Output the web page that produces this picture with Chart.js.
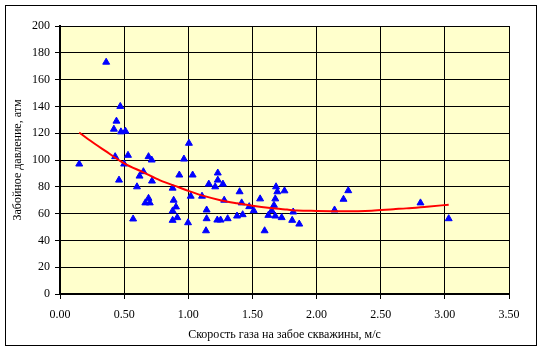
<!DOCTYPE html>
<html lang="ru">

<head>
    <meta charset="UTF-8">
    <script src="https://cdn.jsdelivr.net/npm/chart.js"></script>
    <title>Забойное давление</title>
    <style>
        body,
        html {
            margin: 0;
            padding: 0;
            background: #ffffff;
            overflow: hidden;
        }

        canvas {
            display: block;
        }
    </style>
</head>

<body>
    <canvas id="chart" width="543" height="352"></canvas>
    <script>
        // measured points: gas speed at bottom (m/s) and bottomhole pressure (atm)
        const speeds = [
            0.15, 0.36, 0.47, 0.44, 0.42, 0.475, 0.51, 0.53, 0.43, 0.50,
            0.69, 0.715, 0.46, 0.62, 0.65, 0.717, 0.60, 0.878, 0.93, 0.69,
            0.665, 0.70, 0.886, 0.904, 0.878, 0.57, 0.878, 0.914, 1.005, 0.966,
            1.034, 1.23, 1.23, 1.16, 1.27, 1.21, 1.019, 1.107, 1.28, 1.40,
            1.416, 1.143, 1.475, 1.51, 1.56, 1.684, 1.694, 1.75, 1.678, 1.668,
            1.65, 1.624, 1.678, 1.728, 1.81, 0.998, 1.143, 1.226, 1.252, 1.307,
            1.38, 1.424, 1.138, 1.595, 1.818, 1.865, 2.14, 2.21, 2.247, 2.81,
            3.03
        ]
        const pressures = [
            97, 173, 140, 129, 123, 121, 121.5, 103.5, 102.5, 97,
            102.5, 100, 85, 88, 91.3, 84.3, 80, 79, 88.8, 71.4,
            68, 68, 70, 65, 62, 56, 55, 57, 112.5, 100.7,
            88.8, 90.3, 85, 82, 82, 80, 73, 73, 70, 76.3,
            68, 62.7, 65.2, 62.2, 71, 80, 76.3, 77, 71, 66.2,
            62.2, 58.7, 58.2, 57, 55, 53.2, 56.2, 55.2, 55.2, 56.2,
            58.2, 59.2, 47.2, 47.2, 61.2, 52.2, 62.7, 70.7, 77.1, 68,
            56.2
        ]

        // trend line
        const trendX = [0.15, 0.22, 0.35, 0.5, 0.65, 0.78, 0.93, 1.0, 1.12, 1.25, 1.38, 1.5, 1.64, 1.77, 1.85, 2.0, 2.2, 2.43, 2.6, 2.7, 2.86, 3.03]
        const trendY = [120.5, 115.5, 107, 97.5, 90.8, 84.8, 79.5, 77, 73.2, 70, 67.7, 65.9, 64.2, 63, 62.3, 62, 61.8, 62.2, 63.3, 63.9, 65.2, 66.6]

        const yTicks = [0, 20, 40, 60, 80, 100, 120, 140, 160, 180, 200]
        const xTicks = [0, 0.5, 1, 1.5, 2, 2.5, 3, 3.5]

        const font = { family: 'Liberation Serif', size: 12 }

        const pointData = speeds.map((x, i) => ({ x: x, y: pressures[i] }))
        const trendData = trendX.map((x, i) => ({ x: x, y: trendY[i] }))

        // yellow plot area and outer frame
        const framePlugin = {
            id: 'frame',
            beforeDraw(chart) {
                const ctx = chart.ctx
                const a = chart.chartArea
                ctx.save()
                ctx.fillStyle = '#ffffff'
                ctx.fillRect(0, 0, chart.width, chart.height)
                ctx.strokeStyle = '#000000'
                ctx.lineWidth = 1
                ctx.strokeRect(5.5, 5.5, 531, 340)
                ctx.fillStyle = '#FFFFCC'
                ctx.fillRect(a.left, a.top, a.right - a.left, a.bottom - a.top)
                ctx.restore()
            }
        }

        new Chart(document.getElementById('chart'), {
            type: 'scatter',
            data: {
                datasets: [
                    {
                        type: 'line',
                        data: trendData,
                        borderColor: '#FF0000',
                        borderWidth: 2,
                        pointRadius: 0,
                        tension: 0.4,
                        cubicInterpolationMode: 'monotone',
                        fill: false,
                        order: 0
                    },
                    {
                        data: pointData,
                        pointStyle: 'triangle',
                        pointRadius: 4,
                        backgroundColor: '#0000FF',
                        borderColor: '#0000FF',
                        borderWidth: 1,
                        order: 1
                    }
                ]
            },
            options: {
                responsive: false,
                animation: false,
                devicePixelRatio: 1,
                layout: { padding: { left: 0, right: 34, top: 26, bottom: 0 } },
                plugins: {
                    legend: { display: false },
                    tooltip: { enabled: false }
                },
                scales: {
                    x: {
                        type: 'linear',
                        min: 0,
                        max: 3.5,
                        afterBuildTicks(scale) {
                            scale.ticks = xTicks.map(v => ({ value: v }))
                        },
                        ticks: {
                            color: '#000000',
                            font: font,
                            padding: 9,
                            maxRotation: 0,
                            callback: v => v.toFixed(2)
                        },
                        grid: { color: '#000000', lineWidth: 1, tickLength: 5 },
                        border: { color: '#000000', width: 2 },
                        title: {
                            display: true,
                            text: 'Скорость газа на забое скважины, м/с',
                            color: '#000000',
                            font: font,
                            padding: { top: 0, bottom: 10 }
                        },
                        afterFit(scale) { scale.height = 58 }
                    },
                    y: {
                        min: 0,
                        max: 200,
                        afterBuildTicks(scale) {
                            scale.ticks = yTicks.map(v => ({ value: v }))
                        },
                        ticks: { color: '#000000', font: font, padding: 5 },
                        grid: { color: '#000000', lineWidth: 1, tickLength: 5 },
                        border: { color: '#000000', width: 2 },
                        title: {
                            display: true,
                            text: 'Забойное давление, атм',
                            color: '#000000',
                            font: font,
                            padding: { top: 11, bottom: 0 }
                        },
                        afterFit(scale) { scale.width = 60 }
                    }
                }
            },
            plugins: [framePlugin]
        })
    </script>
</body>

</html>
